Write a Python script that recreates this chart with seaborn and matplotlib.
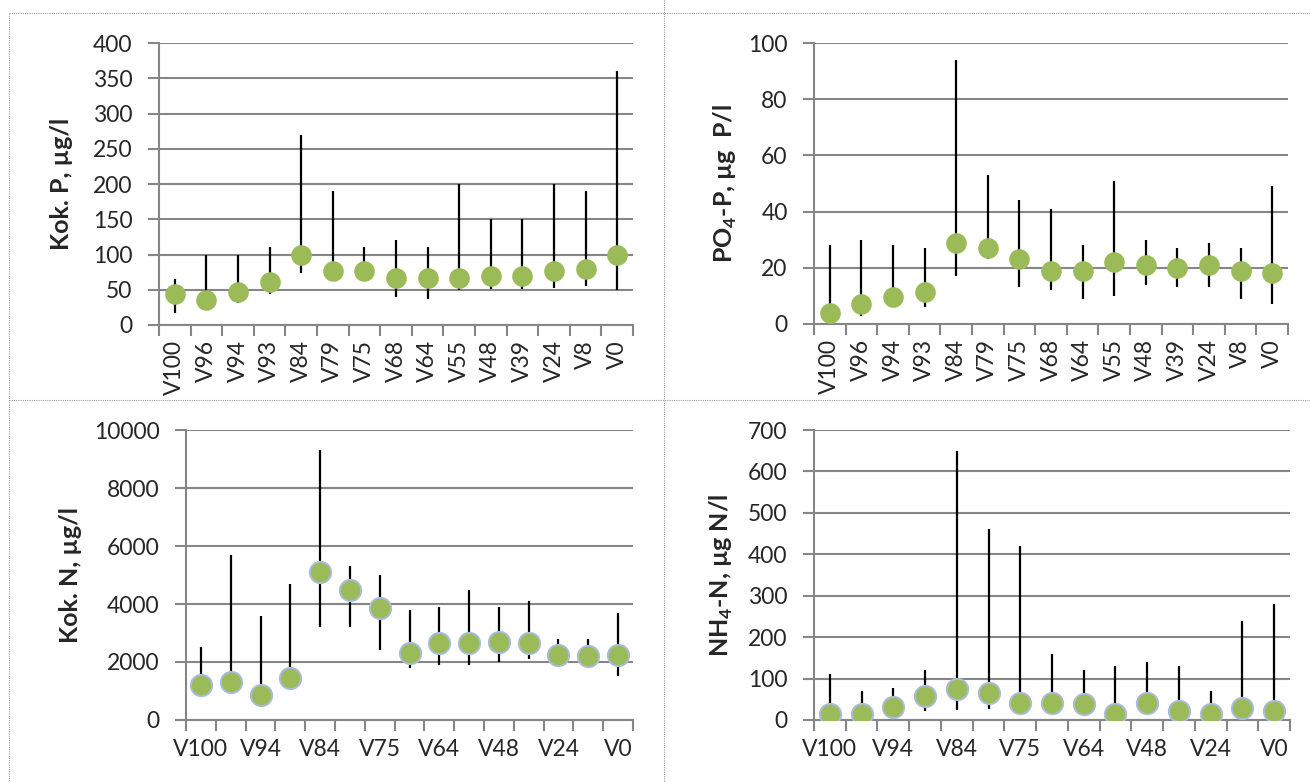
import numpy as np
import pandas as pd
import matplotlib
matplotlib.use("Agg")
import matplotlib.pyplot as plt
import seaborn as sns
from matplotlib.lines import Line2D

# ---------------- data ----------------
stations = ["V100", "V96", "V94", "V93", "V84", "V79", "V75", "V68",
            "V64", "V55", "V48", "V39", "V24", "V8", "V0"]

totp_mean = [44, 35, 47, 61, 99, 77, 76, 66, 66, 67, 69, 69, 76, 79, 100]
totp_min = [17, 30, 31, 44, 74, 70, 70, 40, 37, 50, 51, 51, 53, 56, 50]
totp_max = [65, 100, 100, 110, 270, 190, 110, 120, 110, 200, 150, 150, 200, 190, 360]

po4_mean = [4, 7, 9.5, 11.5, 29, 27, 23, 19, 19, 22, 21, 20, 21, 19, 18]
po4_min = [1, 3, 7, 6, 17, 23, 13, 12, 9, 10, 14, 13, 13, 9, 7]
po4_max = [28, 30, 28, 27, 94, 53, 44, 41, 28, 51, 30, 27, 29, 27, 49]

totn_mean = [1200, 1300, 850, 1450, 5100, 4500, 3850, 2300, 2650, 2650, 2700, 2650, 2250, 2200, 2250]
totn_min = [1000, 1100, 700, 1300, 3200, 3200, 2400, 1800, 1900, 1900, 2000, 2100, 2100, 1800, 1500]
totn_max = [2500, 5700, 3600, 4700, 9300, 5300, 5000, 3800, 3900, 4500, 3900, 4100, 2800, 2800, 3700]

nh4_mean = [14, 14, 31, 58, 74, 65, 40, 40, 38, 14, 42, 22, 14, 30, 22]
nh4_min = [5, 5, 6, 22, 24, 26, 25, 25, 25, 5, 25, 10, 5, 15, 10]
nh4_max = [110, 70, 78, 120, 650, 460, 420, 160, 120, 130, 140, 130, 70, 240, 280]

# ---------------- style ----------------
sns.set_theme(style="white")
plt.rcParams["font.family"] = ["Lato", "DejaVu Sans"]
plt.rcParams["mathtext.fontset"] = "custom"
plt.rcParams["mathtext.rm"] = "Lato"
plt.rcParams["mathtext.bf"] = "Lato:bold"

GREEN = "#9BBB59"
GRAY = "#868686"
EDGE = "#A9BCDB"
TICK_FS = 16.5
LABEL_FS = 18

fig = plt.figure(figsize=(13.1, 7.82), dpi=100)


def panel(rect, mean, lo, hi, ymax, ystep, ylabel, label_x, top_row, edge):
    ax = fig.add_axes(rect)
    n = len(stations)
    df = pd.DataFrame({"pos": np.arange(n), "station": stations,
                       "mean": mean, "lo": lo, "hi": hi})
    ax.vlines(df["pos"], df["lo"], df["hi"], color="black", lw=1.6, zorder=3)
    if edge:
        sns.scatterplot(data=df, x="pos", y="mean", ax=ax, s=235, color=GREEN,
                        edgecolor=EDGE, linewidth=1.4, zorder=4, legend=False)
    else:
        sns.scatterplot(data=df, x="pos", y="mean", ax=ax, s=220, color=GREEN,
                        edgecolor=GREEN, linewidth=0, zorder=4, legend=False)
    ax.set_xlim(-0.5, n - 0.5)
    ax.set_ylim(0, ymax)
    ax.set_yticks(np.arange(0, ymax + ystep / 2, ystep))
    ax.grid(axis="y", color=GRAY, lw=1.5)
    ax.grid(axis="x", visible=False)
    ax.set_axisbelow(True)
    for s in ["top", "right"]:
        ax.spines[s].set_visible(False)
    for s in ["left", "bottom"]:
        ax.spines[s].set_color(GRAY)
        ax.spines[s].set_linewidth(1.5)
    # boundary ticks (major) and centered labels (minor)
    ax.set_xticks(np.arange(-0.5, n, 1.0))
    ax.set_xticklabels([])
    ax.tick_params(axis="x", which="major", length=8, width=1.5, color=GRAY,
                   direction="out", bottom=True)
    if top_row:
        ax.set_xticks(df["pos"], minor=True)
        ax.set_xticklabels(stations, minor=True, rotation=90, fontsize=TICK_FS)
        ax.tick_params(axis="x", which="minor", length=0, pad=11)
    else:
        ax.set_xticks(df["pos"][::2], minor=True)
        ax.set_xticklabels(stations[::2], minor=True, fontsize=TICK_FS)
        ax.tick_params(axis="x", which="minor", length=0, pad=14)
    ax.tick_params(axis="y", length=8, width=1.5, color=GRAY, direction="out",
                   left=True, labelsize=TICK_FS, pad=11)
    ax.set_xlabel("")
    ax.set_ylabel(ylabel, fontsize=LABEL_FS, fontweight="bold", va="center")
    ax.yaxis.set_label_coords(label_x, 0.5)
    return ax


panel([0.1214, 0.5844, 0.3618, 0.3606], totp_mean, totp_min, totp_max,
      400, 50, "Kok. P, µg/l", -0.2068, True, False)
panel([0.6214, 0.5857, 0.3618, 0.3593], po4_mean, po4_min, po4_max,
      100, 20, r"PO$_\mathbf{4}$-P, µg  P/l", -0.1878, True, False)
panel([0.1420, 0.0793, 0.3412, 0.3708], totn_mean, totn_min, totn_max,
      10000, 2000, "Kok. N, µg/l", -0.2595, False, True)
panel([0.6214, 0.0793, 0.3633, 0.3708], nh4_mean, nh4_min, nh4_max,
      700, 100, r"NH$_\mathbf{4}$-N, µg N/l", -0.194, False, True)

# dotted panel borders
def border(x0, y0, x1, y1):
    fig.add_artist(Line2D([x0 / 1310, x1 / 1310], [1 - y0 / 782, 1 - y1 / 782],
                          transform=fig.transFigure, color="#9A9A9A", lw=0.8,
                          ls=(0, (1, 1))))

border(9, 13, 1310, 13)
border(9, 400, 1310, 400)
border(9, 13, 9, 782)
border(664, 0, 664, 782)

fig.savefig("out.png", dpi=100)
